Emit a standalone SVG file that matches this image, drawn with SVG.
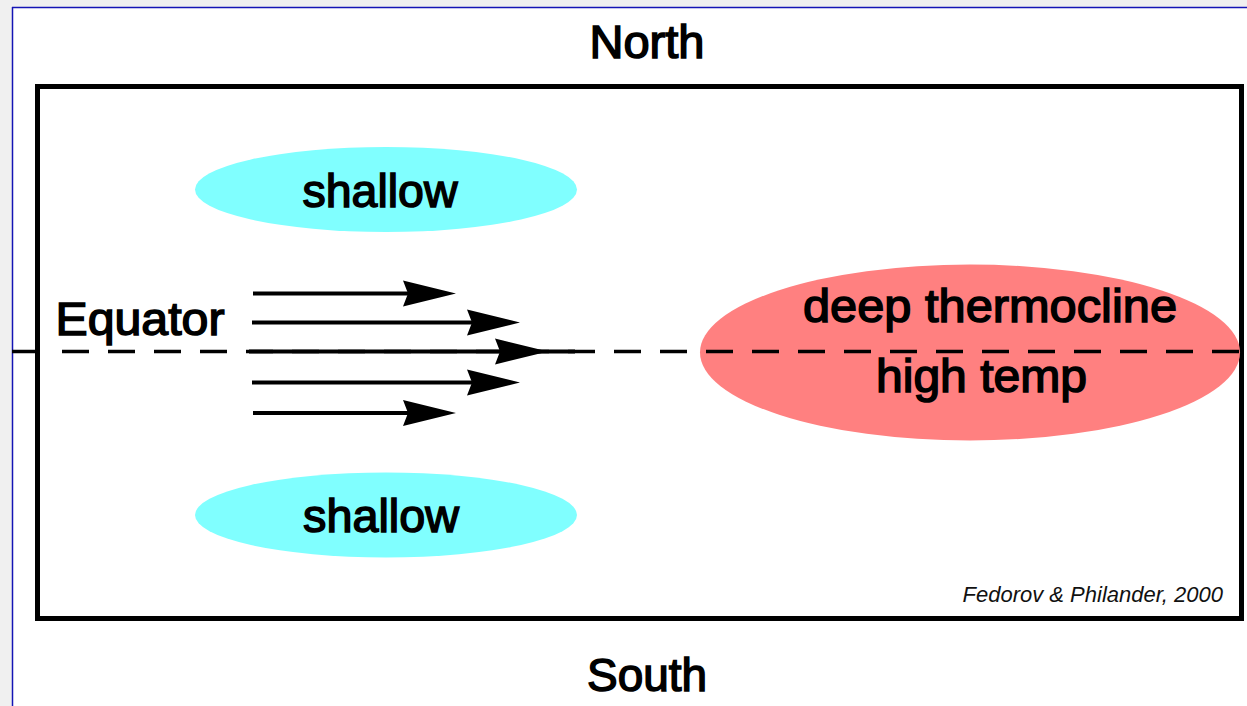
<svg xmlns="http://www.w3.org/2000/svg" width="1247" height="706" viewBox="0 0 1247 706">
  <defs>
    <style>
      .lbl { font-family: "Liberation Sans", Arial, sans-serif; font-size: 46px; fill: #000; stroke: #000; stroke-width: 1.5px; text-anchor: middle; }
      .cite { font-family: "Liberation Sans", Arial, sans-serif; font-size: 22px; font-style: italic; fill: #111; text-anchor: end; }
      .shaft { stroke: #000; stroke-width: 4; fill: none; }
      .head { fill: #000; }
      .shallowFill { fill: #80ffff; }
    </style>
    <polygon id="ahead" class="head" points="0,0 -53,-13 -48,0 -53,13"/>
  </defs>

  <rect x="0" y="0" width="1247" height="706" fill="#f0f0f0"/>
  <rect x="12" y="7" width="1235" height="699" fill="#ffffff"/>
  <line x1="12" y1="7.5" x2="1247" y2="7.5" stroke="#1515b5" stroke-width="1.5"/>
  <line x1="12.5" y1="7" x2="12.5" y2="706" stroke="#1515b5" stroke-width="1.5"/>

  <g id="frame">
    <rect x="37.5" y="86.5" width="1204" height="532" fill="none" stroke="#000" stroke-width="5"/>
  </g>

  <g id="north"><text class="lbl" x="647" y="58" textLength="115" lengthAdjust="spacingAndGlyphs">North</text></g>
  <g id="south"><text class="lbl" x="647" y="691" textLength="120" lengthAdjust="spacingAndGlyphs">South</text></g>

  <g id="shallow-north">
    <ellipse class="shallowFill" cx="386" cy="189.5" rx="191" ry="42.5"/>
    <text class="lbl" x="380" y="207" textLength="155" lengthAdjust="spacingAndGlyphs">shallow</text>
  </g>
  <g id="shallow-south">
    <ellipse class="shallowFill" cx="386" cy="515" rx="191" ry="42.5"/>
    <text class="lbl" x="381" y="532" textLength="156" lengthAdjust="spacingAndGlyphs">shallow</text>
  </g>

  <g id="warm-pool">
    <ellipse cx="970" cy="352.5" rx="270" ry="88" fill="#ff8080"/>
    <text class="lbl" x="990" y="322" textLength="374" lengthAdjust="spacingAndGlyphs">deep thermocline</text>
    <text class="lbl" x="981.5" y="392" textLength="211" lengthAdjust="spacingAndGlyphs">high temp</text>
  </g>

  <g id="equator">
    <text class="lbl" x="140" y="335" textLength="169" lengthAdjust="spacingAndGlyphs">Equator</text>
    <line x1="12" y1="351.5" x2="37" y2="351.5" stroke="#000" stroke-width="3.5"/>
    <line x1="62" y1="351.5" x2="1247" y2="351.5" stroke="#000" stroke-width="3.5" stroke-dasharray="27 19"/>
  </g>

  <g id="connectors">
    <line class="shaft" x1="253" y1="293.5" x2="410" y2="293.5"/>
    <use href="#ahead" x="456" y="293.5"/>
    <line class="shaft" x1="252" y1="322.5" x2="474" y2="322.5"/>
    <use href="#ahead" x="520" y="322.5"/>
    <line class="shaft" x1="249" y1="351.5" x2="575" y2="351.5"/>
    <use href="#ahead" x="548" y="351.5"/>
    <line class="shaft" x1="252" y1="382.5" x2="474" y2="382.5"/>
    <use href="#ahead" x="520" y="382.5"/>
    <line class="shaft" x1="253" y1="413" x2="410" y2="413"/>
    <use href="#ahead" x="456" y="413"/>
  </g>

  <g id="citation">
    <text class="cite" x="1223" y="602">Fedorov &amp; Philander, 2000</text>
  </g>
</svg>
